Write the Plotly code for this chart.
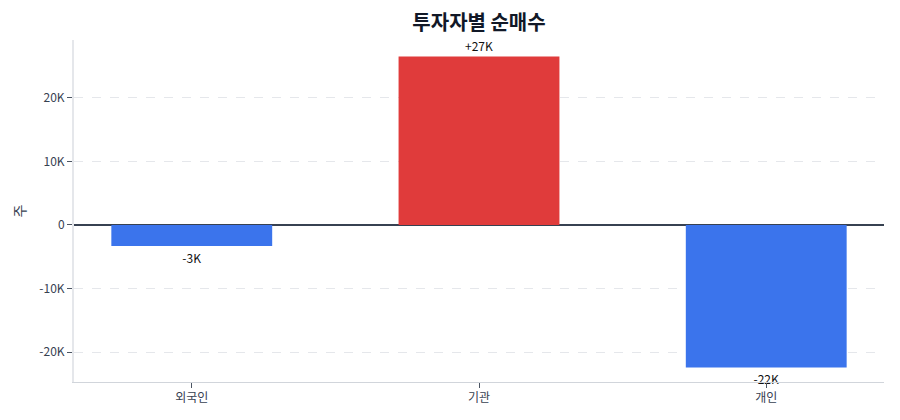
import plotly.graph_objects as go

investors = ['외국인', '기관', '개인']
net_buy = [-3300, 26500, -22400]
labels = ['-3K', '+27K', '-22K']

colors = ['#e03b3b' if v > 0 else '#3b74ec' for v in net_buy]

fig = go.Figure(
    data=go.Bar(x=investors, y=net_buy,
                marker=dict(color=colors, line=dict(width=0)),
                width=0.56,
                text=labels,
                textposition='outside',
                textfont=dict(size=12, color='#111111'),
                cliponaxis=False,
                hoverinfo='skip')
)

fig.update_layout(
    title=dict(text='<b>투자자별 순매수</b>', x=0.5, y=0.98, xref='paper',
               xanchor='center', font=dict(size=20, color='#111827')),
    width=900, height=420,
    margin=dict(l=60, r=24, t=32, b=46),
    font=dict(family='Noto Sans CJK KR', size=12, color='#374151'),
    plot_bgcolor='white',
    paper_bgcolor='white',
    showlegend=False,
    xaxis=dict(range=[-0.41, 2.41], showline=True, linecolor='#d1d5db',
               ticks='outside', tickcolor='#4b5563', ticklen=5, showgrid=False),
    yaxis=dict(title=dict(text='주', standoff=10), range=[-24700, 29100],
               tickvals=[-20000, -10000, 0, 10000, 20000],
               ticktext=['-20K', '-10K', '0', '10K', '20K'],
               showline=True, linecolor='#e5e7eb', linewidth=2,
               ticks='outside', tickcolor='#4b5563', ticklen=5,
               showgrid=True, gridcolor='#e5e7eb', griddash='dash',
               zeroline=True, zerolinecolor='#374151', zerolinewidth=1.5),
)

fig.write_html("out.html")
